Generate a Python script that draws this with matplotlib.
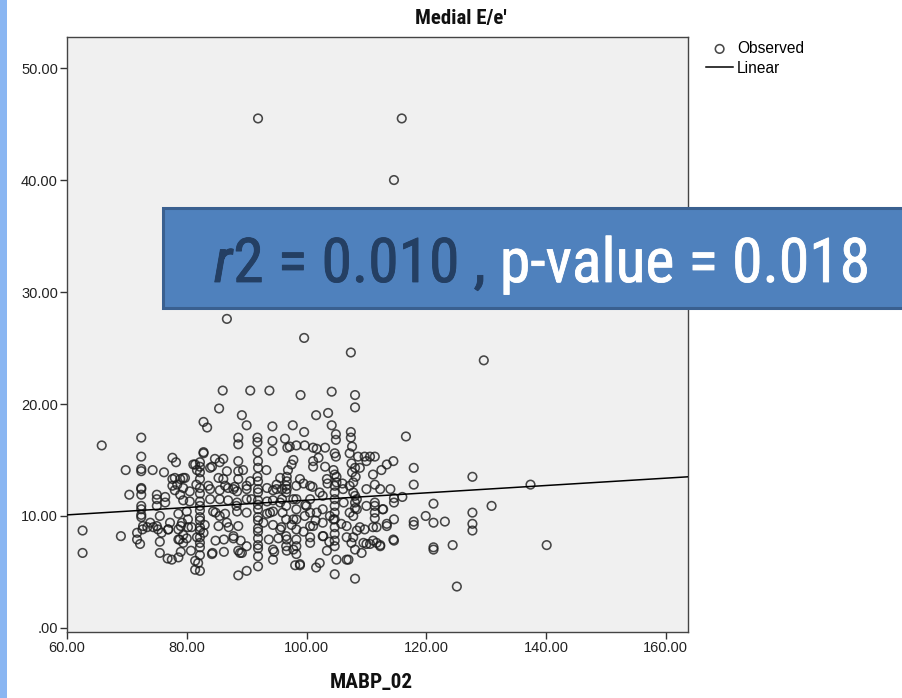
import matplotlib
matplotlib.use("Agg")
import matplotlib.pyplot as plt
from matplotlib import font_manager as fm
from matplotlib.patches import Rectangle
from matplotlib import patheffects as pe

# ---------------- data (MABP_02 vs Medial E/e') ----------------
high_x = [91.9, 115.9, 114.6, 86.7, 99.6, 107.4, 129.6, 86.0, 90.6, 93.8, 99.0, 104.2, 108.1, 108.1, 85.4, 101.6, 103.6]
high_y = [45.5, 45.5, 40.0, 27.6, 25.9, 24.6, 23.9, 21.2, 21.2, 21.2, 20.8, 21.1, 20.8, 19.7, 19.6, 19.0, 19.2]

left_x = [65.8, 72.4, 72.4, 69.8, 72.4, 72.4, 74.3, 76.2, 77.6, 78.2, 77.6, 78.4, 72.4, 70.4, 72.4,
          72.4, 75.0, 75.0, 75.0, 76.4, 76.4, 77.6, 72.4, 72.4, 72.4, 72.4, 75.5, 62.6, 62.6, 69.0,
          71.7, 72.6, 73.4, 74.4, 71.7, 72.2, 75.2, 75.5, 75.5, 76.9, 77.2, 76.8, 78.6, 78.6, 78.6]
left_y = [16.3, 17.0, 15.3, 14.1, 14.2, 14.0, 14.1, 13.9, 15.2, 14.8, 13.3, 12.8, 12.5, 11.9, 12.4,
          11.9, 11.9, 11.5, 10.9, 11.7, 11.2, 12.7, 10.9, 10.6, 10.1, 9.9, 10.0, 8.7, 6.7, 8.2,
          8.5, 8.8, 9.0, 9.0, 7.9, 7.5, 8.8, 7.7, 6.7, 8.8, 9.4, 6.2, 8.8, 7.9, 6.3]

mid_up_x = [82.8, 83.4, 89.2, 90.0, 94.3, 88.6, 88.6, 91.8, 91.8, 91.8, 94.3, 94.3, 96.4, 96.8,
            82.8, 84.7, 86.1, 88.6, 81.4, 82.2, 83.9, 88.6, 89.4, 91.9, 91.9, 91.8, 93.3, 86.7,
            82.2, 82.2, 78.0, 79.4, 85.3, 88.6, 90.6, 95.6, 96.7, 95.0, 81.6, 83.6, 86.4, 88.0]
mid_up_y = [18.4, 17.9, 19.0, 18.1, 18.0, 17.0, 16.4, 17.0, 16.6, 15.7, 16.7, 15.8, 16.9, 16.1,
            15.7, 15.1, 15.1, 14.9, 14.6, 14.4, 14.3, 14.0, 14.1, 14.9, 14.3, 13.5, 14.1, 14.0,
            13.9, 13.3, 13.4, 13.4, 13.4, 13.3, 13.1, 13.4, 13.1, 12.8, 12.8, 12.7, 12.7, 12.6]

up_right_x = [104.2, 97.7, 99.6, 104.9, 104.9, 107.4, 107.4, 97.2, 98.3, 99.7, 101.1, 101.7, 103.1,
              104.7, 104.9, 107.2, 108.6, 109.7, 110.6, 111.4, 114.5, 113.4, 112.5, 97.8, 97.5,
              96.9, 96.7, 101.1, 101.1, 102.0, 103.1, 104.5, 104.7, 107.5, 108.1, 108.9, 108.2,
              110.0, 111.1, 116.6, 117.9, 117.9, 127.7]
up_right_y = [18.1, 18.1, 17.5, 17.3, 16.8, 17.5, 17.0, 16.2, 16.3, 16.3, 16.1, 16.0, 16.1,
              15.6, 15.3, 15.6, 15.3, 15.3, 15.3, 15.3, 14.9, 14.6, 14.1, 15.0, 14.6,
              14.1, 13.5, 14.9, 14.4, 15.2, 14.4, 14.1, 13.7, 14.7, 14.3, 14.3, 13.5,
              14.9, 13.7, 17.1, 14.3, 12.8, 13.5]

low_right_x = [137.4, 130.9, 121.2, 127.7, 127.7, 127.7, 123.1, 119.9, 117.9, 117.9, 121.2, 124.4,
               121.2, 121.2, 140.1, 125.1, 108.1, 114.6, 114.0, 114.6, 114.6, 116.0, 111.4, 111.4,
               111.4, 111.4, 112.7, 112.3, 114.6, 113.4, 111.1, 108.9, 109.7, 108.4, 112.3, 111.1,
               110.0, 109.2, 108.1, 107.0, 106.7, 108.1, 108.1, 108.1, 107.2, 107.8, 107.2, 110.0,
               111.4, 110.0, 107.8, 108.4, 108.4, 107.8, 107.5, 109.5, 111.7, 112.8, 113.4, 111.7,
               110.6, 112.3, 114.5]
low_right_y = [12.8, 10.9, 11.1, 10.3, 9.3, 8.7, 9.5, 10.0, 9.5, 9.2, 9.4, 7.4,
               7.2, 7.0, 7.4, 3.7, 4.4, 7.8, 12.4, 11.6, 11.2, 11.7, 11.2, 10.9,
               10.3, 9.8, 10.6, 12.4, 9.7, 9.1, 9.0, 9.0, 8.8, 8.7, 7.4, 7.8,
               7.5, 6.7, 7.0, 6.1, 8.1, 11.8, 11.2, 10.7, 10.3, 13.0, 12.7, 12.4,
               12.8, 10.9, 12.1, 11.5, 10.6, 10.0, 7.6, 7.6, 9.0, 10.6, 9.3, 7.6,
               7.5, 7.3, 7.9]

mid_right_x = [104.7, 101.6, 102.2, 98.1, 98.9, 98.3, 96.7, 103.4, 105.0, 106.7,
               104.7, 104.7, 104.7, 104.7, 104.7, 104.7, 104.7, 104.7, 104.7, 104.7,
               98.3, 98.3, 98.3, 98.3, 98.3, 98.3, 98.3,
               100.6, 100.6, 100.6, 100.6, 100.6,
               96.6, 96.6, 96.6, 96.6, 96.6, 96.6,
               102.7, 102.7, 102.7, 102.7,
               99.5, 101.0, 103.5, 106.0, 99.8, 101.5, 103.9, 105.8, 99.5, 103.8, 97.5, 106.2]
mid_right_y = [4.8, 5.4, 5.8, 5.6, 5.6, 6.6, 6.9, 6.9, 6.1, 6.1,
               7.3, 7.8, 8.4, 9.0, 9.7, 10.3, 10.9, 11.5, 12.1, 12.7,
               12.7, 11.5, 10.6, 9.7, 8.8, 7.9, 7.3,
               11.5, 10.3, 9.1, 8.1, 7.6,
               12.7, 12.1, 10.9, 9.7, 8.2, 7.3,
               11.8, 10.6, 9.4, 8.2,
               12.9, 12.6, 12.9, 12.9, 11.0, 9.6, 10.0, 9.3, 8.6, 7.7, 9.2, 11.2]

dense_x = [82.2, 82.2, 82.2, 82.2, 82.2, 82.2, 82.2, 82.2, 82.2, 82.2, 82.2, 82.2, 82.2,
           91.9, 91.9, 91.9, 91.9, 91.9, 91.9, 91.9, 91.9, 91.9, 91.9, 91.9, 91.9, 91.9, 91.9,
           78.0, 79.4, 80.5, 83.9, 85.5, 86.9, 88.4, 90.0, 93.4, 94.4, 95.9,
           79.4, 80.5, 83.9, 86.9, 88.4, 90.0, 93.4, 94.4, 95.9,
           78.6, 80.0, 84.8, 86.4, 88.4, 90.0, 93.4, 94.4, 96.0,
           79.0, 80.2, 83.0, 85.3, 87.0, 88.6, 94.4, 95.8,
           78.8, 80.0, 84.8, 86.2, 87.8, 89.0, 93.7, 95.3,
           79.0, 80.7, 84.3, 86.2, 88.6, 94.6,
           88.6, 90.0, 91.9, 81.4, 82.2, 81.4, 81.9, 84.2, 88.9, 94.4, 77.5]
dense_y = [12.5, 12.0, 11.3, 10.9, 10.5, 9.9, 9.6, 9.0, 8.7, 8.1, 7.6, 7.2, 6.5,
           13.1, 12.4, 12.1, 11.4, 11.0, 10.6, 9.9, 9.6, 8.9, 8.6, 8.0, 7.4, 7.1, 6.4,
           12.3, 12.5, 12.2, 12.4, 12.3, 12.5, 12.2, 12.4, 12.5, 12.3, 12.4,
           11.4, 11.3, 11.5, 11.4, 11.2, 11.5, 11.3, 11.4, 11.5,
           10.2, 10.4, 10.3, 10.2, 10.4, 10.3, 10.2, 10.4, 10.3,
           9.1, 9.0, 9.2, 9.1, 9.0, 9.1, 9.2, 9.0,
           7.9, 8.0, 7.8, 7.9, 8.0, 7.8, 7.9, 8.0,
           6.8, 6.9, 6.7, 6.8, 6.9, 6.8,
           4.7, 5.1, 5.5, 5.2, 5.1, 6.0, 5.8, 6.6, 6.7, 6.1, 6.1]

extra_x = [78.9, 79.7, 81.1, 81.7, 84.2, 85.5, 82.8,
           105.0, 105.0, 107.6, 107.6,
           78.9, 79.2, 79.4, 79.4, 82.2,
           80.2, 80.8, 81.7, 82.8,
           84.4, 85.5, 86.7, 87.8, 89.2, 90.0,
           94.4, 95.6, 96.7, 97.8, 98.9,
           99.7, 101.1, 102.8, 104.5, 106.7, 107.8,
           96.7, 97.8, 98.9, 100.6, 102.2, 103.4, 106.1,
           95.0, 95.6, 93.9, 92.8, 97.8, 100.0, 101.7,
           86.1, 87.8, 85.5, 88.3, 90.0, 90.8,
           72.7, 73.9, 75.0, 75.8, 76.9]
extra_y = [13.3, 13.4, 14.6, 14.1, 14.4, 14.8, 15.6,
           13.5, 13.0, 16.2, 13.9,
           11.9, 9.4, 8.3, 7.6, 14.8,
           9.7, 9.0, 8.1, 8.5,
           10.4, 10.0, 9.4, 8.2, 6.7, 7.3,
           7.0, 8.8, 7.9, 7.0, 5.7,
           10.0, 9.1, 8.2, 9.7, 9.1, 8.1,
           12.4, 11.5, 13.3, 12.7, 12.1, 13.3, 12.4,
           12.4, 11.2, 10.3, 9.4, 9.7, 10.9, 10.3,
           13.3, 12.4, 11.5, 10.9, 12.7, 11.5,
           9.1, 9.4, 9.1, 8.5, 8.8]

# linear fit reported in the chart
fit_intercept = 8.13
fit_slope = 0.0328

x_ticks = [60, 80, 100, 120, 140, 160]
x_tick_labels = ["60.00", "80.00", "100.00", "120.00", "140.00", "160.00"]
y_ticks = [0, 10, 20, 30, 40, 50]
y_tick_labels = [".00", "10.00", "20.00", "30.00", "40.00", "50.00"]
x_range = (60, 163.7)
y_range = (-0.36, 52.8)

title = "Medial E/e'"
x_label = "MABP_02"
legend_labels = ["Observed", "Linear"]
stat_parts = ["r", "2 = 0.010 ,", "p-value = 0.018"]

# ---------------- fonts ----------------
names = {f.name for f in fm.fontManager.ttflist}
REG = "Liberation Sans" if "Liberation Sans" in names else "DejaVu Sans"

PREF = ["Liberation Sans Narrow", "Arial Narrow", "Roboto Condensed", "Noto Sans",
        "Noto Sans Condensed", "Open Sans", "Open Sans Condensed", "DejaVu Sans",
        "DejaVu Sans Condensed", "Roboto", "Inter", "Lato"]
BAD = ("Light", "Thin", "Medium", "Black", "Semi", "Extra", "Mono", "Serif", "CJK",
       "Display", "UI", "Symbols", "Math", "Heavy", "Book")


def _w(f):
    w = f.weight
    if isinstance(w, str):
        lw = w.lower()
        if "bold" in lw:
            return 700
        if "medium" in lw:
            return 500
        return 400
    return int(w)


def find_condensed(weights=(400,), italic=False):
    best, best_score = None, None
    for f in fm.fontManager.ttflist:
        nm = f.name
        st = str(f.stretch)
        cond = ("Narrow" in nm) or ("Condensed" in nm) or st in ("condensed", "semi-condensed")
        if not cond:
            continue
        if any(b in nm for b in BAD):
            continue
        wt = _w(f)
        if wt not in weights:
            continue
        isit = f.style in ("italic", "oblique")
        if isit != italic:
            continue
        base = nm.replace(" Condensed", "").replace(" Narrow", "")
        rank = PREF.index(nm) if nm in PREF else (PREF.index(base) if base in PREF else 50)
        score = (rank, weights.index(wt), 0 if st == "condensed" else 1)
        if best_score is None or score < best_score:
            best, best_score = f, score
    if best is None:
        bold = 700 in weights and 400 not in weights
        return fm.FontProperties(family=REG, weight="bold" if bold else "normal",
                                 style="italic" if italic else "normal")
    return fm.FontProperties(fname=best.fname)


fp_narrow_bold = find_condensed(weights=(700,))
fp_big = find_condensed(weights=(400,))
fp_big_it = find_condensed(weights=(400,), italic=True)

# ---------------- figure ----------------
W, H = 903, 698
fig = plt.figure(figsize=(W / 100, H / 100), dpi=100)
fig.patch.set_facecolor("white")
renderer = fig.canvas.get_renderer()


def text_w(s, fp, size):
    p = fp.copy()
    p.set_size(size)
    t = fig.text(0, 0, s, fontproperties=p)
    w = t.get_window_extent(renderer).width
    t.remove()
    return w


def fit_size(s, fp, target_px, size0=20):
    return size0 * target_px / text_w(s, fp, size0)


# slide stripe on the left
fig.add_artist(Rectangle((0, 0), 7 / W, 1, transform=fig.transFigure,
                         facecolor="#8ab6f2", edgecolor="none", zorder=0))

ax = fig.add_axes([67 / W, 1 - 632 / H, (688 - 67) / W, (632 - 36.7) / H])
ax.set_facecolor("#f0f0f0")

all_x = high_x + left_x + mid_up_x + up_right_x + low_right_x + mid_right_x + dense_x + extra_x
all_y = high_y + left_y + mid_up_y + up_right_y + low_right_y + mid_right_y + dense_y + extra_y

sc = ax.scatter(all_x, all_y, s=38, facecolors="none", edgecolors="#1c1c1c",
                linewidths=1.15, alpha=0.8, zorder=3)
lx = [x_range[0], x_range[1]]
ly = [fit_intercept + fit_slope * v for v in lx]
ln, = ax.plot(lx, ly, color="black", lw=1.1, zorder=4)

ax.set_xlim(*x_range)
ax.set_ylim(*y_range)
ax.set_xticks(x_ticks)
ax.set_xticklabels(x_tick_labels)
ax.set_yticks(y_ticks)
ax.set_yticklabels(y_tick_labels)
ax.tick_params(direction="out", length=5, width=1, color="#333333",
               labelsize=10.5, labelcolor="#222222", pad=1.5)
for lab in ax.get_xticklabels() + ax.get_yticklabels():
    lab.set_family(REG)
for sp in ax.spines.values():
    sp.set_color("#444444")
    sp.set_linewidth(1.0)

# title
tp = fp_narrow_bold.copy()
tp.set_size(min(fit_size(title, fp_narrow_bold, 112), 15))
ax.set_title(title, x=(461 - 67) / 621, y=1 + (36.7 - 18) / 595.3, va="center", pad=0,
             fontproperties=tp, color="#111111")

# x label
xp = fp_narrow_bold.copy()
xp.set_size(min(fit_size(x_label, fp_narrow_bold, 83), 16))
ax.set_xlabel(x_label, fontproperties=xp, color="#111111", va="center")
ax.xaxis.set_label_coords((371 - 67) / 621, -(683 - 632) / 595.3)

leg = ax.legend([sc, ln], legend_labels, loc="upper left",
                bbox_to_anchor=(706 / W, 1 - 41 / H), bbox_transform=fig.transFigure,
                frameon=False, scatterpoints=1, handlelength=1.75, handletextpad=0.25,
                labelspacing=0.3, borderaxespad=0, borderpad=0,
                prop={"family": REG, "size": 11.2})

# ---------------- statistic box ----------------
fig.add_artist(Rectangle((163 / W, 1 - 308 / H), 0.9, 100 / H, transform=fig.transFigure,
                         facecolor="#4f81bd", edgecolor="#3a6090", linewidth=2.2, zorder=10))
full = stat_parts[0] + stat_parts[1] + " " + stat_parts[2]
big = min(fit_size(full, fp_big, 655), 47)
base_y = 1 - 282 / H
navy = "#243f63"
p_it = fp_big_it.copy(); p_it.set_size(big)
p_rg = fp_big.copy(); p_rg.set_size(big)
fx_navy = [pe.withStroke(linewidth=0.6, foreground=navy)]
fx_white = [pe.withStroke(linewidth=0.6, foreground="white")]
t1 = fig.text(214 / W, base_y, stat_parts[0], color=navy, fontproperties=p_it,
              va="baseline", ha="left", zorder=12, path_effects=fx_navy)
x_next = t1.get_window_extent(renderer).x1 + 1
t2 = fig.text(x_next / W, base_y, stat_parts[1], color=navy, fontproperties=p_rg,
              va="baseline", ha="left", zorder=12, path_effects=fx_navy)
fig.text(870 / W, base_y, stat_parts[2], color="white", fontproperties=p_rg,
         va="baseline", ha="right", zorder=12, path_effects=fx_white)

fig.savefig("out.png", dpi=100, facecolor="white")
